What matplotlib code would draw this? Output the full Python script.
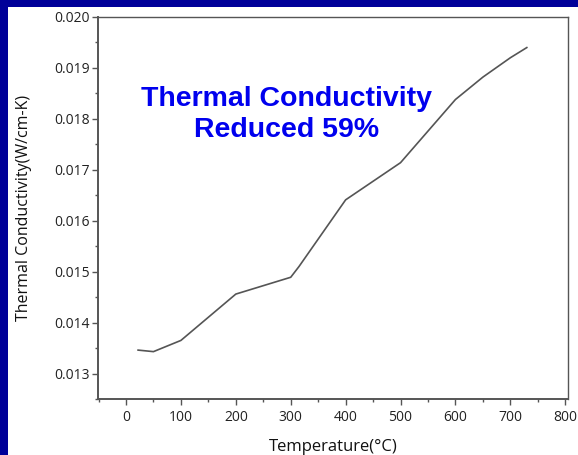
import matplotlib.pyplot as plt
from matplotlib.patches import Rectangle
from matplotlib.ticker import MultipleLocator

# values
temperature = [22, 50, 100, 200, 300, 315, 400, 500, 600, 650, 700, 730]
conductivity = [0.01346, 0.01343, 0.01365, 0.01456, 0.01489, 0.01510,
                0.01641, 0.01714, 0.01838, 0.01882, 0.01920, 0.01940]
x_ticks = [0, 100, 200, 300, 400, 500, 600, 700, 800]
y_ticks = [0.013, 0.014, 0.015, 0.016, 0.017, 0.018, 0.019, 0.020]
note = 'Thermal Conductivity\nReduced 59%'

fig = plt.figure(figsize=(5.78, 4.55), dpi=100)
fig.patch.set_facecolor('#000099')
# white slide panel behind the chart
fig.patches.append(Rectangle((8 / 578, 0), 1, 1 - 7 / 455, transform=fig.transFigure,
                             facecolor='white', edgecolor='none', zorder=-10))

ax = fig.add_axes([98 / 578, 1 - 399 / 455, 470 / 578, 382 / 455])
ax.set_zorder(5)
ax.plot(temperature, conductivity, color='#555555', linewidth=1.2)

ax.set_xlim(-51, 805)
ax.set_ylim(0.0125, 0.020)
ax.set_xticks(x_ticks)
ax.set_yticks(y_ticks)
ax.set_yticklabels([f'{v:.3f}' for v in y_ticks])
ax.xaxis.set_minor_locator(MultipleLocator(50))
ax.yaxis.set_minor_locator(MultipleLocator(0.0005))

for s in ax.spines.values():
    s.set_color('#555555')
    s.set_linewidth(1.0)
ax.spines['left'].set_linewidth(1.4)
ax.spines['bottom'].set_linewidth(1.4)

ax.tick_params(which='major', direction='out', length=4, width=1, color='#555555',
               labelsize=10, labelcolor='#222222', top=False, right=False)
ax.tick_params(axis='y', which='major', pad=2)
ax.tick_params(axis='x', which='major', pad=4)
ax.tick_params(which='minor', direction='out', length=2.5, width=1, color='#555555',
               top=False, right=False)
for lab in ax.get_xticklabels() + ax.get_yticklabels():
    lab.set_family('Open Sans')

ax.set_xlabel('Temperature(°C)', fontsize=12, family='Open Sans', color='#111111', labelpad=10)
ax.set_ylabel('Thermal Conductivity(W/cm-K)', fontsize=11.5, family='Open Sans',
              color='#111111', labelpad=16)

ax.text(293, 0.01808, note, ha='center', va='center', fontsize=20.5,
        fontweight='bold', family='Liberation Sans', color='#0000ee', linespacing=1.25)

fig.savefig('out.png', dpi=100, facecolor=fig.get_facecolor())
